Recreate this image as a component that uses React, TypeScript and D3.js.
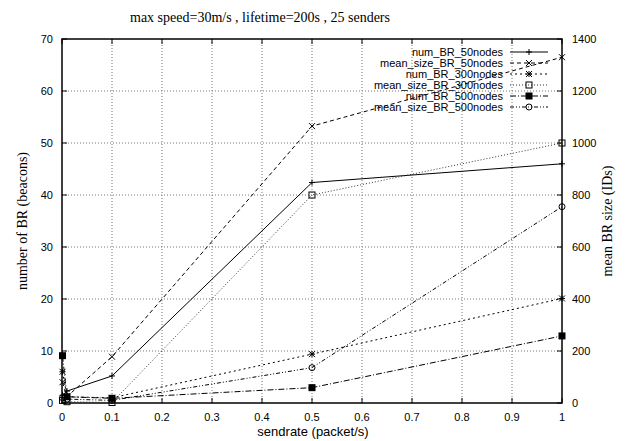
import React from "react";
import * as d3 from "d3";

const xs = [0.001, 0.01, 0.1, 0.5, 1];
const numBR50 = [1.5, 2.3, 5.2, 42.4, 46];
const meanSize50 = [80, 25, 178, 1065, 1330];
const numBR300 = [6.0, 1.2, 1.0, 9.4, 20.1];
const meanSize300 = [10, 5, 2, 800, 1000];
const numBR500 = [9.1, 1.2, 0.9, 2.95, 12.9];
const meanSize500 = [20, 15, 10, 136, 755];

const xTicks = [0, 0.1, 0.2, 0.3, 0.4, 0.5, 0.6, 0.7, 0.8, 0.9, 1];
const yLeftTicks = [0, 10, 20, 30, 40, 50, 60, 70];
const yRightTicks = [0, 200, 400, 600, 800, 1000, 1200, 1400];

const title = "max speed=30m/s , lifetime=200s , 25 senders";
const xLabel = "sendrate (packet/s)";
const yLeftLabel = "number of BR (beacons)";
const yRightLabel = "mean BR size (IDs)";

type Series = { name: string; values: number[]; axis: "L" | "R"; dash: string; marker: string; color: string; width: number };

const series: Series[] = [
  { name: "num_BR_50nodes", values: numBR50, axis: "L", dash: "", marker: "plus", color: "#000", width: 1 },
  { name: "mean_size_BR_50nodes", values: meanSize50, axis: "R", dash: "4,3", marker: "x", color: "#000", width: 1 },
  { name: "num_BR_300nodes", values: numBR300, axis: "L", dash: "2,3", marker: "star", color: "#000", width: 1 },
  { name: "mean_size_BR_300nodes", values: meanSize300, axis: "R", dash: "1,2", marker: "box", color: "#333", width: 1 },
  { name: "num_BR_500nodes", values: numBR500, axis: "L", dash: "6,2,1,2", marker: "fbox", color: "#000", width: 1 },
  { name: "mean_size_BR_500nodes", values: meanSize500, axis: "R", dash: "4,2,1,2,1,2", marker: "circle", color: "#000", width: 1 },
];

const L = 62, R = 562, T = 39, B = 403;

function Marker({ type, x, y }: { type: string; x: number; y: number }) {
  const s = 3;
  switch (type) {
    case "plus":
      return <path d={`M${x - s},${y}H${x + s}M${x},${y - s}V${y + s}`} stroke="#000" strokeWidth={1} />;
    case "x":
      return <path d={`M${x - s},${y - s}L${x + s},${y + s}M${x - s},${y + s}L${x + s},${y - s}`} stroke="#000" strokeWidth={1} />;
    case "star":
      return <path d={`M${x - s},${y}H${x + s}M${x},${y - s}V${y + s}M${x - s},${y - s}L${x + s},${y + s}M${x - s},${y + s}L${x + s},${y - s}`} stroke="#000" strokeWidth={1} />;
    case "box":
      return <rect x={x - 3} y={y - 3} width={6} height={6} fill="none" stroke="#000" strokeWidth={1} />;
    case "fbox":
      return <rect x={x - 3.5} y={y - 3.5} width={7} height={7} fill="#000" />;
    case "circle":
      return <circle cx={x} cy={y} r={3} fill="none" stroke="#000" strokeWidth={1} />;
  }
  return null;
}

export default function App() {
  const x = d3.scaleLinear().domain([0, 1]).range([L, R]);
  const yL = d3.scaleLinear().domain([0, 70]).range([B, T]);
  const yR = d3.scaleLinear().domain([0, 1400]).range([B, T]);
  const sans = "'Liberation Sans', Arial, sans-serif";
  const serif = "'Liberation Serif', 'Times New Roman', serif";

  return (
    <svg width={626} height={441} style={{ position: "absolute", left: 0, top: 0 }}>
      <rect width={626} height={441} fill="#fff" />
      <text x={260} y={22} textAnchor="middle" fontFamily={serif} fontSize={14}>{title}</text>
      {/* grid */}
      {xTicks.filter(t => t > 0 && t < 1).map(t => (
        <line key={"gx" + t} x1={x(t)} x2={x(t)} y1={T} y2={B} stroke="#777" strokeWidth={1} strokeDasharray="1,2" />
      ))}
      {yLeftTicks.filter(t => t > 0 && t < 70).map(t => (
        <line key={"gy" + t} x1={L} x2={R} y1={yL(t)} y2={yL(t)} stroke="#777" strokeWidth={1} strokeDasharray="1,2" />
      ))}
      {/* frame */}
      <rect x={L} y={T} width={R - L} height={B - T} fill="none" stroke="#000" strokeWidth={1.5} />
      {/* ticks */}
      {xTicks.map(t => (
        <g key={"tx" + t}>
          <line x1={x(t)} x2={x(t)} y1={B} y2={B - 5} stroke="#000" />
          <line x1={x(t)} x2={x(t)} y1={T} y2={T + 5} stroke="#000" />
          <text x={x(t)} y={421} textAnchor="middle" fontFamily={sans} fontSize={11}>{String(t)}</text>
        </g>
      ))}
      {yLeftTicks.map(t => (
        <g key={"tl" + t}>
          <line x1={L} x2={L + 5} y1={yL(t)} y2={yL(t)} stroke="#000" />
          <text x={53} y={yL(t) + 4} textAnchor="end" fontFamily={sans} fontSize={11}>{t}</text>
        </g>
      ))}
      {yRightTicks.map(t => (
        <g key={"tr" + t}>
          <line x1={R} x2={R - 5} y1={yR(t)} y2={yR(t)} stroke="#000" />
          <text x={572} y={yR(t) + 4} textAnchor="start" fontFamily={sans} fontSize={11}>{t}</text>
        </g>
      ))}
      <text x={313} y={436} textAnchor="middle" fontFamily={sans} fontSize={13}>{xLabel}</text>
      <text transform={`translate(27,${(T + B) / 2}) rotate(-90)`} textAnchor="middle" fontFamily={serif} fontSize={14}>{yLeftLabel}</text>
      <text transform={`translate(612,${(T + B) / 2}) rotate(-90)`} textAnchor="middle" fontFamily={serif} fontSize={14}>{yRightLabel}</text>
      {/* series */}
      {series.map((s, i) => {
        const ys = s.axis === "L" ? yL : yR;
        const line = d3.line<number>().x((_, j) => x(xs[j])).y(v => ys(v));
        const ly = 52 + i * 11;
        return (
          <g key={s.name}>
            <path d={line(s.values) || ""} fill="none" stroke={s.color} strokeWidth={s.width} strokeDasharray={s.dash || undefined} />
            {s.values.map((v, j) => <Marker key={j} type={s.marker} x={x(xs[j])} y={ys(v)} />)}
            <text x={503} y={ly + 4} textAnchor="end" fontFamily={sans} fontSize={11}>{s.name}</text>
            <line x1={510} x2={548} y1={ly} y2={ly} stroke={s.color} strokeWidth={s.width} strokeDasharray={s.dash || undefined} />
            <Marker type={s.marker} x={529} y={ly} />
          </g>
        );
      })}
    </svg>
  );
}
